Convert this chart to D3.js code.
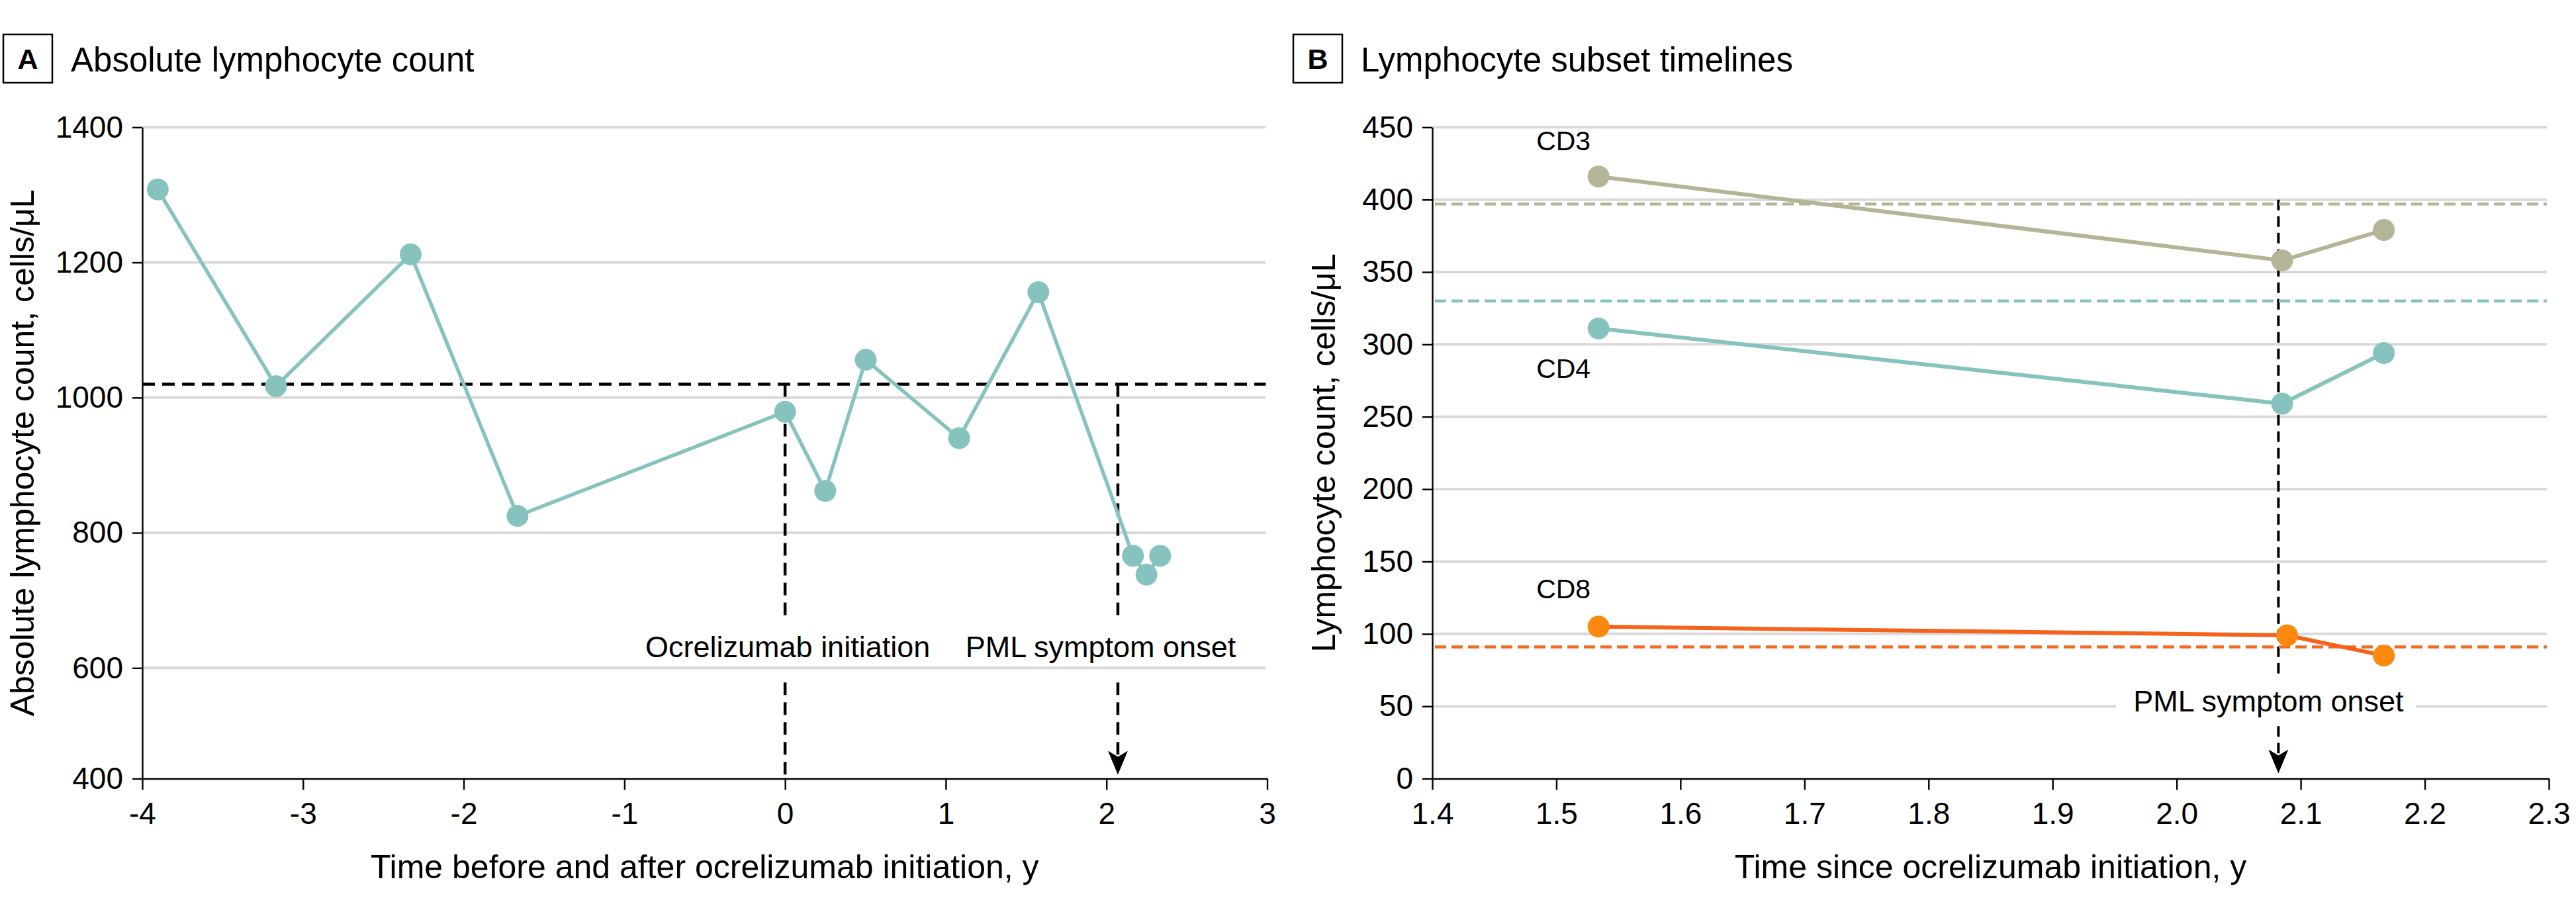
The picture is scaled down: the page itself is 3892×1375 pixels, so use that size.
<!DOCTYPE html>
<html><head><meta charset="utf-8">
<script src="https://cdn.jsdelivr.net/npm/d3@7"></script>
<style>
body{margin:0;background:#fff;}
svg text{font-family:"Liberation Sans",Arial,Helvetica,sans-serif;fill:#000;}
</style></head><body>
<svg id="chart" width="3892" height="1375"></svg>
<script>
// ---------- DATA ----------
// Panel A: absolute lymphocyte count
const alcTimes  = [-3.904, -3.168, -2.33, -1.665, 0, 0.25, 0.502, 1.083, 1.576, 2.165, 2.249, 2.334];
const alcValues = [1308, 1017, 1212, 825, 979, 862, 1056, 940, 1156, 766, 738, 766];
const alcReference = 1020;
const ocrelizumabStart = 0;
const pmlOnsetA = 2.071;
const xTicksA = [-4, -3, -2, -1, 0, 1, 2, 3];
const yTicksA = [400, 600, 800, 1000, 1200, 1400];

// Panel B: lymphocyte subsets
const subsetNames = ["CD3", "CD4", "CD8"];
const cd3Times = [1.534, 2.085, 2.167];
const cd4Times = [1.534, 2.085, 2.167];
const cd8Times = [1.534, 2.089, 2.167];
const cd3Values = [416, 358, 379];
const cd4Values = [311, 259, 294];
const cd8Values = [105, 99, 85];
const subsetReferences = [397, 330, 91];
const pmlOnsetB = 2.082;
const xTicksB = [1.4, 1.5, 1.6, 1.7, 1.8, 1.9, 2.0, 2.1, 2.2, 2.3];
const yTicksB = [0, 50, 100, 150, 200, 250, 300, 350, 400, 450];

// ---------- STYLE ----------
const teal = "#86c3bf";
const subsetLineColors = ["#b4b497", "#86c3bf", "#f5621c"];
const subsetDotColors  = ["#b4b497", "#86c3bf", "#fd880f"];
const subsetRefColors  = ["#b4b497", "#86c3bf", "#f36a21"];
const gridColor = "#d9d9d9";

const svg = d3.select("#chart");

// ---------- SCALES ----------
const xA = d3.scaleLinear().domain([-4, 3]).range([215, 1914.5]);
const yA = d3.scaleLinear().domain([400, 600, 1400]).range([1176.5, 1009.3, 192.3]);
const xB = d3.scaleLinear().domain([1.4, 2.3]).range([2164, 3851]);
const yB = d3.scaleLinear().domain([0, 450]).range([1176.5, 192.3]);

function styleAxis(g) {
  g.select(".domain").attr("stroke", "#000").attr("stroke-width", 2.4);
  g.selectAll(".tick line").attr("stroke", "#000").attr("stroke-width", 2.4);
  g.selectAll(".tick text").attr("font-size", 46).attr("font-family", "Liberation Sans, Arial, sans-serif").attr("fill", "#000");
}

function panelHeader(letter, title, bx) {
  svg.append("rect").attr("x", bx).attr("y", 52).attr("width", 74).attr("height", 73)
    .attr("fill", "none").attr("stroke", "#000").attr("stroke-width", 2.5);
  svg.append("text").attr("x", bx + 37).attr("y", 104).attr("text-anchor", "middle")
    .attr("font-size", 43).attr("font-weight", "bold").text(letter);
  svg.append("text").attr("x", bx + 102).attr("y", 108).attr("font-size", 51).text(title);
}

function arrowPath(x, tip) {
  return `M${x},${tip} L${x - 15},${tip - 36} L${x},${tip - 27} L${x + 15},${tip - 36} Z`;
}

// ================= PANEL A =================
panelHeader("A", "Absolute lymphocyte count", 5);

const gA = svg.append("g");
// gridlines
gA.selectAll("line.grid").data(yTicksA.slice(1)).join("line")
  .attr("x1", xA.range()[0]).attr("x2", xA.range()[1] - 2)
  .attr("y1", d => yA(d)).attr("y2", d => yA(d))
  .attr("stroke", gridColor).attr("stroke-width", 4);

// axes
gA.append("g").attr("transform", `translate(0,${yA(400)})`)
  .call(d3.axisBottom(xA).tickValues(xTicksA).tickFormat(d => String(d)).tickSize(17).tickSizeOuter(0).tickPadding(19))
  .call(styleAxis);
gA.append("g").attr("transform", `translate(${xA(-4)},0)`)
  .call(d3.axisLeft(yA).tickValues(yTicksA).tickFormat(d => String(d)).tickSize(15).tickSizeOuter(0).tickPadding(14))
  .call(styleAxis);

// reference dashed line
gA.append("line").attr("x1", xA(-4)).attr("x2", xA(3) - 2)
  .attr("y1", yA(alcReference)).attr("y2", yA(alcReference))
  .attr("stroke", "#000").attr("stroke-width", 4.5).attr("stroke-dasharray", "19,11");

// annotation lines
const annBaseA = yA(600) - 16;
[[ocrelizumabStart, false], [pmlOnsetA, true]].forEach(([t, arrow]) => {
  gA.append("line").attr("x1", xA(t)).attr("x2", xA(t))
    .attr("y1", yA(alcReference)).attr("y2", annBaseA - 56)
    .attr("stroke", "#000").attr("stroke-width", 4.5).attr("stroke-dasharray", "19,11");
  const tip = arrow ? yA(400) - 6 : yA(400);
  gA.append("line").attr("x1", xA(t)).attr("x2", xA(t))
    .attr("y1", annBaseA + 38).attr("y2", arrow ? tip - 27 : tip)
    .attr("stroke", "#000").attr("stroke-width", 4.5).attr("stroke-dasharray", "19,11");
  if (arrow) gA.append("path").attr("d", arrowPath(xA(t), tip)).attr("fill", "#000");
});
gA.append("text").attr("x", xA(ocrelizumabStart) + 4).attr("y", annBaseA)
  .attr("text-anchor", "middle").attr("font-size", 45).text("Ocrelizumab initiation");
gA.append("text").attr("x", xA(pmlOnsetA) - 26).attr("y", annBaseA)
  .attr("text-anchor", "middle").attr("font-size", 45).text("PML symptom onset");

// series
const alcData = alcTimes.map((t, i) => ({t, v: alcValues[i]}));
gA.append("path").datum(alcData)
  .attr("d", d3.line().x(d => xA(d.t)).y(d => yA(d.v)))
  .attr("fill", "none").attr("stroke", teal).attr("stroke-width", 5.5).attr("stroke-linejoin", "round");
gA.selectAll("circle").data(alcData).join("circle")
  .attr("cx", d => xA(d.t)).attr("cy", d => yA(d.v)).attr("r", 16.5).attr("fill", teal);

// axis titles
gA.append("text").attr("x", (xA.range()[0] + xA.range()[1]) / 2).attr("y", 1327)
  .attr("text-anchor", "middle").attr("font-size", 50).text("Time before and after ocrelizumab initiation, y");
gA.append("text").attr("transform", `translate(51,${(yA(400) + yA(1400)) / 2}) rotate(-90)`)
  .attr("text-anchor", "middle").attr("font-size", 50).text("Absolute lymphocyte count, cells/\u03bcL");

// ================= PANEL B =================
panelHeader("B", "Lymphocyte subset timelines", 1954);

const gB = svg.append("g");
gB.selectAll("line.grid").data(yTicksB.slice(1)).join("line")
  .attr("x1", xB.range()[0]).attr("x2", xB.range()[1] - 3)
  .attr("y1", d => yB(d)).attr("y2", d => yB(d))
  .attr("stroke", gridColor).attr("stroke-width", 4);

gB.append("g").attr("transform", `translate(0,${yB(0)})`)
  .call(d3.axisBottom(xB).tickValues(xTicksB).tickFormat(d3.format(".1f")).tickSize(17).tickSizeOuter(0).tickPadding(19))
  .call(styleAxis);
gB.append("g").attr("transform", `translate(${xB(1.4)},0)`)
  .call(d3.axisLeft(yB).tickValues(yTicksB).tickFormat(d => String(d)).tickSize(15).tickSizeOuter(0).tickPadding(14))
  .call(styleAxis);

// PML annotation (white box breaks grid + dashed line)
const annBaseB = yB(50) + 8;
gB.append("rect").attr("x", 3197).attr("y", annBaseB - 54).attr("width", 453).attr("height", 76).attr("fill", "#fff");
gB.append("line").attr("x1", xB(pmlOnsetB)).attr("x2", xB(pmlOnsetB))
  .attr("y1", yB(400)).attr("y2", annBaseB - 54)
  .attr("stroke", "#000").attr("stroke-width", 4).attr("stroke-dasharray", "16,9");
const tipB = yB(0) - 8;
gB.append("line").attr("x1", xB(pmlOnsetB)).attr("x2", xB(pmlOnsetB))
  .attr("y1", annBaseB + 22).attr("y2", tipB - 27)
  .attr("stroke", "#000").attr("stroke-width", 4).attr("stroke-dasharray", "16,9");
gB.append("path").attr("d", arrowPath(xB(pmlOnsetB), tipB).replace(/-15/g, "-13").replace(/\+15/g, "+13")).attr("fill", "#000");
gB.append("text").attr("x", xB(pmlOnsetB) - 15).attr("y", annBaseB)
  .attr("text-anchor", "middle").attr("font-size", 45).text("PML symptom onset");

// reference dashed lines
gB.selectAll("line.ref").data(subsetReferences).join("line")
  .attr("x1", xB(1.4) + 4).attr("x2", xB(2.3) - 3)
  .attr("y1", d => yB(d)).attr("y2", d => yB(d))
  .attr("stroke", (d, i) => subsetRefColors[i]).attr("stroke-width", 4.5).attr("stroke-dasharray", "17,8");

// series
const subsetTimes = [cd3Times, cd4Times, cd8Times];
const subsetValues = [cd3Values, cd4Values, cd8Values];
const labelOffsets = [-40, 75, -43];
subsetNames.forEach((name, k) => {
  const data = subsetTimes[k].map((t, i) => ({t, v: subsetValues[k][i]}));
  gB.append("path").datum(data)
    .attr("d", d3.line().x(d => xB(d.t)).y(d => yB(d.v)))
    .attr("fill", "none").attr("stroke", subsetLineColors[k]).attr("stroke-width", 6).attr("stroke-linejoin", "round");
  gB.selectAll(null).data(data).join("circle")
    .attr("cx", d => xB(d.t)).attr("cy", d => yB(d.v)).attr("r", 16.5).attr("fill", subsetDotColors[k]);
  gB.append("text").attr("x", xB(data[0].t) - 12).attr("y", yB(data[0].v) + labelOffsets[k])
    .attr("text-anchor", "end").attr("font-size", 41).text(name);
});

// axis titles
gB.append("text").attr("x", (xB.range()[0] + xB.range()[1]) / 2).attr("y", 1327)
  .attr("text-anchor", "middle").attr("font-size", 50).text("Time since ocrelizumab initiation, y");
gB.append("text").attr("transform", `translate(2017,${(yB(0) + yB(450)) / 2}) rotate(-90)`)
  .attr("text-anchor", "middle").attr("font-size", 50).text("Lymphocyte count, cells/\u03bcL");
</script>
</body></html>
